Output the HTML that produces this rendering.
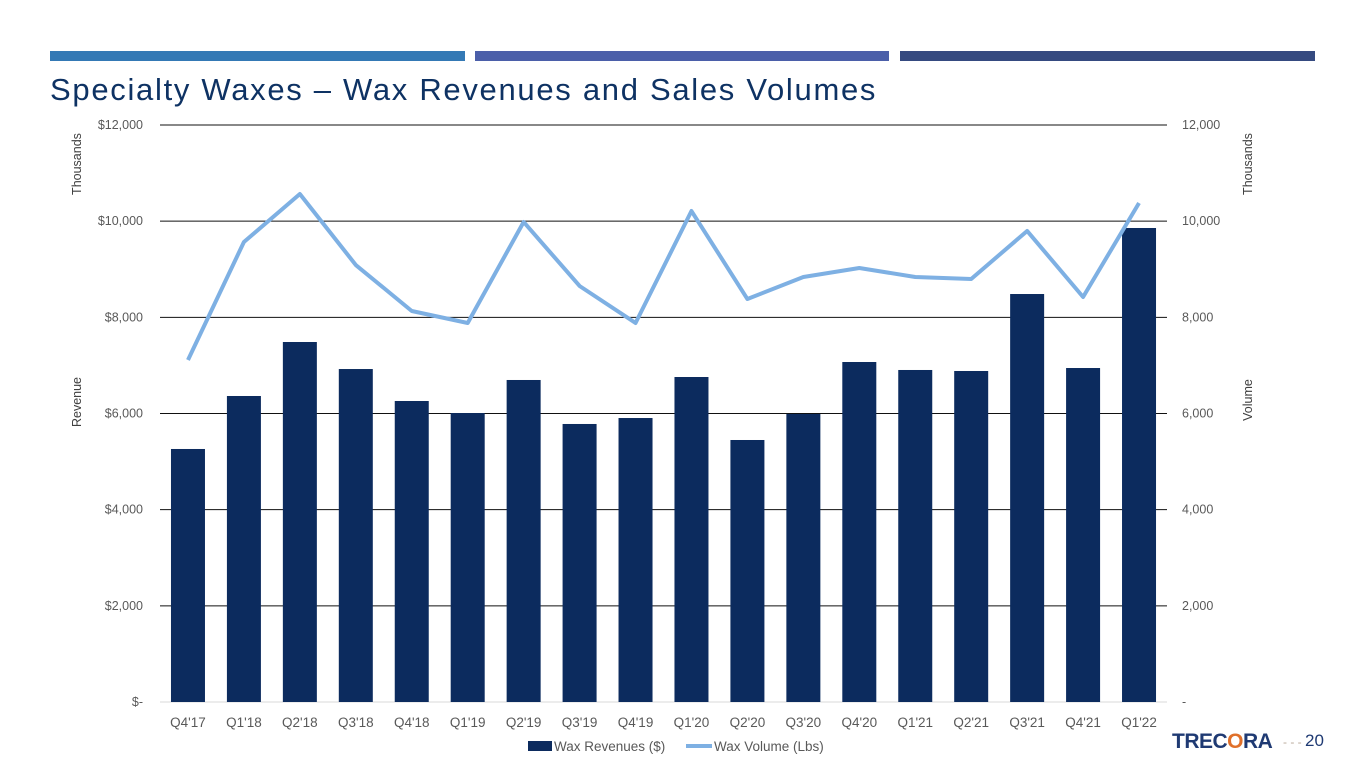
<!DOCTYPE html>
<html><head><meta charset="utf-8"><style>
body{margin:0;width:1365px;height:768px;background:#fff;overflow:hidden;font-family:"Liberation Sans",Arial,sans-serif;position:relative}
.bar{position:absolute;top:51px;height:10px}
#title{position:absolute;left:50px;top:72px;font-size:31px;letter-spacing:1.7px;color:#0e3263;white-space:nowrap}
svg text{font-family:"Liberation Sans",Arial,sans-serif}
</style></head><body>
<div class="bar" style="left:50px;width:415px;background:#3479b5"></div>
<div class="bar" style="left:475px;width:414px;background:#4b5fa9"></div>
<div class="bar" style="left:900px;width:415px;background:#354a80"></div>
<div id="title">Specialty Waxes – Wax Revenues and Sales Volumes</div>
<svg id="chart" width="1365" height="768" style="position:absolute;left:0;top:0"></svg>
<div style="position:absolute;left:1172px;top:730px;font-size:21px;font-weight:bold;color:#1f3a73;letter-spacing:-0.5px">TREC<span style="color:#e0702a">O</span>RA</div>
<div style="position:absolute;left:1283px;top:731px;font-size:17px;color:#1f3a73"><span style="color:#b9a89a;font-size:12px">- - - </span>20</div>
<script>
const categories=["Q4'17","Q1'18","Q2'18","Q3'18","Q4'18","Q1'19","Q2'19","Q3'19","Q4'19","Q1'20","Q2'20","Q3'20","Q4'20","Q1'21","Q2'21","Q3'21","Q4'21","Q1'22"];
const revenues=[5262,6364,7487,6925,6260,6010,6697,5782,5906,6759,5449,5990,7071,6905,6884,8485,6946,9858];
const volumes=[7113,9567,10565,9088,8132,7882,9983,8652,7882,10211,8381,8839,9026,8839,8797,9796,8423,10378];
const leftTicks=["$-","$2,000","$4,000","$6,000","$8,000","$10,000","$12,000"];
const rightTicks=["-","2,000","4,000","6,000","8,000","10,000","12,000"];
const tickValues=[0,2000,4000,6000,8000,10000,12000];
const svg=document.getElementById('chart');const NS='http://www.w3.org/2000/svg';
const X0=160,X1=1167,Y0=702,Y1=125,MAX=12000;
const bw=(X1-X0)/categories.length;
const xc=i=>X0+bw*(i+0.5);
const y=v=>Y0-(v/MAX)*(Y0-Y1);
function mk(t,a,txt){const e=document.createElementNS(NS,t);for(const k in a)e.setAttribute(k,a[k]);if(txt!==undefined)e.textContent=txt;svg.appendChild(e);return e;}
tickValues.forEach((v,i)=>{
 const g=mk('line',{x1:X0,x2:X1,y1:y(v),y2:y(v),stroke:i==0?'#d9d9d9':'#111','stroke-width':1});
 
 
 const l=mk('text',{x:143,y:y(v)+4,'text-anchor':'end','font-size':12.5,fill:'#595959'},leftTicks[i]);
 
 
 const r=mk('text',{x:1182,y:y(v)+4,'font-size':12.5,fill:'#595959'},rightTicks[i]);
 
 
});
revenues.forEach((v,i)=>{
 const b=mk('rect',{x:xc(i)-17,y:y(v),width:34,height:Y0-y(v),fill:'#0c2b5e'});
 
 
 const t=mk('text',{x:xc(i),y:727,'text-anchor':'middle','font-size':13.5,fill:'#595959'},categories[i]);
 
 
});
const ln=mk('polyline',{points:volumes.map((v,i)=>xc(i)+','+y(v)).join(' '),fill:'none',stroke:'#7eb0e3','stroke-width':4,'stroke-linejoin':'round'});


function rot(x,yy,txt,name){const t=mk('text',{x:x,y:yy,'text-anchor':'middle','font-size':12.5,fill:'#404040',transform:`rotate(-90 ${x} ${yy})`},txt);}
rot(81,164,'Thousands','left-units-label');rot(81,402,'Revenue','left-axis-title');
rot(1252,164,'Thousands','right-units-label');rot(1252,400,'Volume','right-axis-title');
const lb=mk('rect',{x:528,y:741,width:24,height:10,fill:'#0c2b5e'});
const lt=mk('text',{x:554,y:751,'font-size':13.5,fill:'#595959'},'Wax Revenues ($)');
const ll=mk('line',{x1:686,x2:712,y1:746,y2:746,stroke:'#7eb0e3','stroke-width':4});
const lt2=mk('text',{x:714,y:751,'font-size':13.5,fill:'#595959'},'Wax Volume (Lbs)');
</script>
</body></html>
